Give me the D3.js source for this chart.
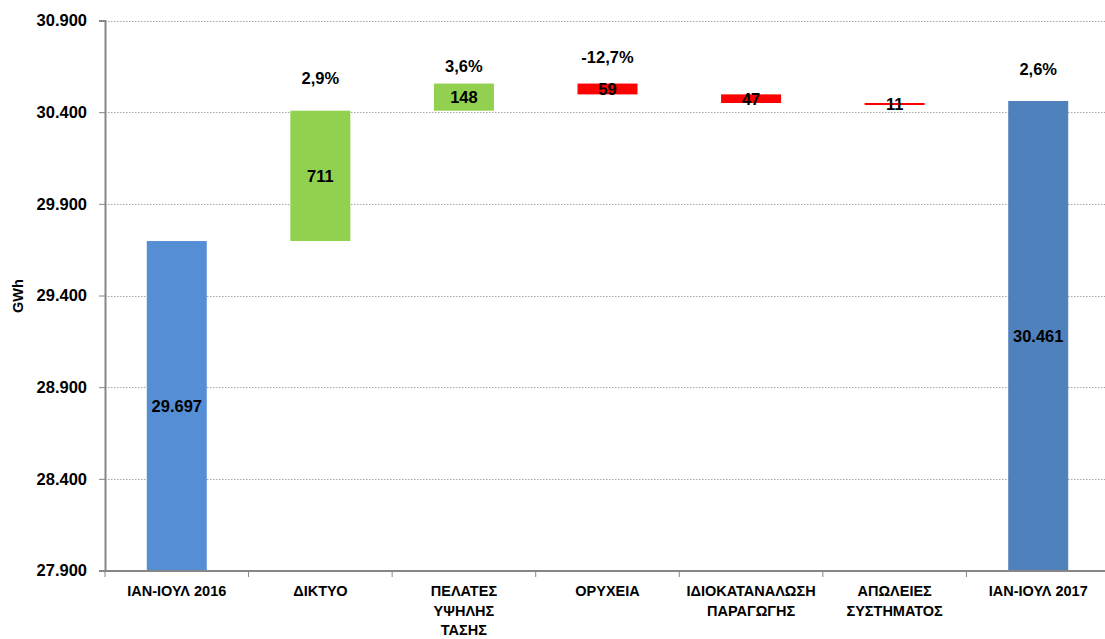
<!DOCTYPE html>
<html><head><meta charset="utf-8">
<script src="https://cdn.jsdelivr.net/npm/d3@7/dist/d3.min.js"></script>
<style>
body{margin:0;background:#fff;}
svg{display:block;font-family:"Liberation Sans",Arial,sans-serif;font-weight:bold;}
</style></head><body>
<svg id="chart" width="1105" height="639"></svg>
<script>
const categories = [
  ["ΙΑΝ-ΙΟΥΛ 2016"],
  ["ΔΙΚΤΥΟ"],
  ["ΠΕΛΑΤΕΣ","ΥΨΗΛΗΣ","ΤΑΣΗΣ"],
  ["ΟΡΥΧΕΙΑ"],
  ["ΙΔΙΟΚΑΤΑΝΑΛΩΣΗ","ΠΑΡΑΓΩΓΗΣ"],
  ["ΑΠΩΛΕΙΕΣ","ΣΥΣΤΗΜΑΤΟΣ"],
  ["ΙΑΝ-ΙΟΥΛ 2017"]
];
const barTypes = ["total","up","up","down","down","down","total2"];
const amounts = [29697, 711, 148, 59, 47, 11, 30461];
const pctLabels = ["", "2,9%", "3,6%", "-12,7%", "", "", "2,6%"];
const pctLevels = [null, 30584, 30649, 30698, null, null, 30633];
const yTicks = [27900, 28400, 28900, 29400, 29900, 30400, 30900];
const yLabel = "GWh";

const colors = {total:"#558ED5", total2:"#4F81BD", up:"#92D050", down:"#FF0000"};

const locale = d3.formatLocale({decimal:",", thousands:".", grouping:[3], currency:["","€"]});
const fmt = locale.format(",d");

const svg = d3.select("#chart");
const yMin = 27900, yMax = 30900;
const y = d3.scaleLinear().domain([yMin, yMax]).range([570.5, 20.5]);
const x = d3.scaleBand().domain(d3.range(categories.length)).range([105, 1110]).paddingInner(0).paddingOuter(0);
const barW = 60;

// compute waterfall segments
let running = 0;
const bars = amounts.map((v, i) => {
  const t = barTypes[i];
  let lo, hi;
  if (t === "total" || t === "total2") { lo = yMin; hi = v; running = v; }
  else if (t === "up") { lo = running; hi = running + v; running = hi; }
  else { hi = running; lo = running - v; running = lo; }
  return {i, t, lo, hi, v};
});

// gridlines
svg.append("g").selectAll("line").data(yTicks.filter(d => d > yMin)).join("line")
  .attr("x1", 105).attr("x2", 1105)
  .attr("y1", d => Math.round(y(d)) + 0.5).attr("y2", d => Math.round(y(d)) + 0.5)
  .attr("stroke", "#a6a6a6").attr("stroke-width", 1).attr("stroke-dasharray", "1.5,1.5");

// bars
svg.append("g").selectAll("rect").data(bars).join("rect")
  .attr("x", d => x(d.i) + x.bandwidth()/2 - barW/2)
  .attr("width", barW)
  .attr("y", d => y(d.hi))
  .attr("height", d => y(d.lo) - y(d.hi))
  .attr("fill", d => colors[d.t]);

// y axis
const yAxis = d3.axisLeft(y).tickValues(yTicks).tickSize(6).tickPadding(12).tickFormat(fmt);
const gy = svg.append("g").attr("transform", "translate(105,0)").call(yAxis);
gy.select(".domain").attr("stroke", "#868686").attr("stroke-width", 2);
gy.selectAll(".tick line").attr("stroke", "#868686");
gy.selectAll(".tick text").attr("font-size", 16.5).attr("font-weight", "bold").attr("fill", "#000")
  .attr("font-family", "Liberation Sans, Arial, sans-serif");

// x axis line + ticks at band boundaries
const xb = d3.scaleLinear().domain([0, categories.length]).range(x.range());
const gx = svg.append("g");
gx.append("line").attr("x1", 104).attr("x2", 1105).attr("y1", 571).attr("y2", 571)
  .attr("stroke", "#868686").attr("stroke-width", 2);
gx.selectAll("line.tk").data(d3.range(0, categories.length + 1)).join("line").attr("class","tk")
  .attr("x1", d => xb(d)).attr("x2", d => xb(d)).attr("y1", 571).attr("y2", 577)
  .attr("stroke", "#868686").attr("stroke-width", 1);

// category labels
const cl = svg.append("g").selectAll("text").data(categories).join("text")
  .attr("text-anchor", "middle").attr("font-size", 14.5).attr("fill", "#000");
cl.each(function(lines, i){
  const t = d3.select(this);
  lines.forEach((ln, k) => {
    t.append("tspan").attr("x", x(i) + x.bandwidth()/2).attr("y", 596 + k*19.5).text(ln);
  });
});

// value labels
svg.append("g").selectAll("text").data(bars).join("text")
  .attr("x", d => x(d.i) + x.bandwidth()/2)
  .attr("y", d => (y(d.lo) + y(d.hi))/2)
  .attr("dy", "0.36em")
  .attr("text-anchor", "middle").attr("font-size", 16.5).attr("fill", "#000")
  .text(d => fmt(d.v));

// percentage labels
svg.append("g").selectAll("text").data(pctLabels.map((p,i)=>({p,i,l:pctLevels[i]})).filter(d => d.p))
  .join("text")
  .attr("x", d => x(d.i) + x.bandwidth()/2)
  .attr("y", d => y(d.l))
  .attr("dy", "0.36em")
  .attr("text-anchor", "middle").attr("font-size", 16.5).attr("fill", "#000")
  .text(d => d.p);

// y axis label
svg.append("text").attr("transform", "translate(23,296) rotate(-90)")
  .attr("text-anchor", "middle").attr("font-size", 14.5).attr("fill", "#000").text(yLabel);
</script>
</body></html>
